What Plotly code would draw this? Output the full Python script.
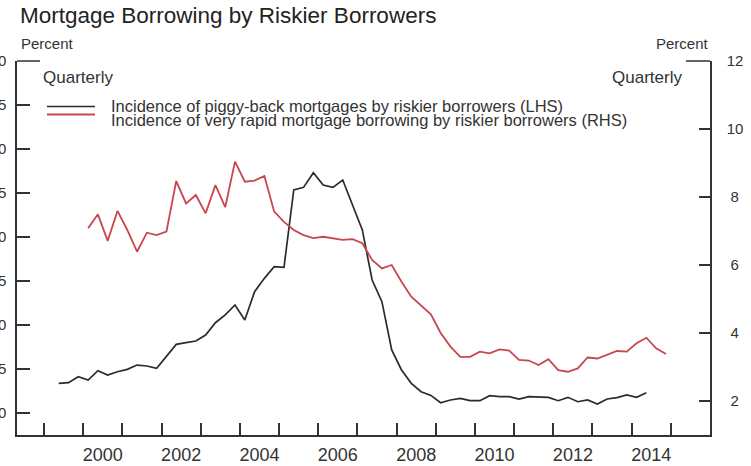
import plotly.graph_objects as go

# ---------------- data ----------------
def quarters(start_year, start_q, n):
    out = []
    y, q = start_year, start_q
    for _ in range(n):
        out.append(f"{y}Q{q}")
        q += 1
        if q > 4:
            q = 1
            y += 1
    return out

def qpos(label):
    y, q = label.split("Q")
    return int(y) + (int(q) - 1) * 0.25 + 0.125

piggyback_quarters = quarters(1999, 2, 61)
piggyback_values = [
    3.37, 3.45, 4.13,
    3.75, 4.81, 4.32, 4.69,
    4.96, 5.45, 5.34, 5.08,
    6.40, 7.80, 7.99, 8.18,
    8.86, 10.26, 11.14, 12.27,
    10.57, 13.79, 15.30, 16.63,
    16.55, 25.34, 25.64, 27.31,
    25.91, 25.64, 26.48, 23.64,
    20.80, 15.11, 12.65, 7.16,
    4.89, 3.37, 2.42, 2.00,
    1.17, 1.48, 1.67, 1.40,
    1.40, 1.97, 1.85, 1.85,
    1.59, 1.85, 1.78, 1.78,
    1.40, 1.78, 1.28, 1.48,
    1.02, 1.59, 1.74, 2.05,
    1.78, 2.31,
]

rapid_quarters = quarters(2000, 1, 60)
rapid_values = [
    7.08, 7.49, 6.71, 7.59,
    7.03, 6.39, 6.95, 6.88,
    6.98, 8.47, 7.81, 8.06,
    7.52, 8.35, 7.70, 9.04,
    8.45, 8.48, 8.62, 7.57,
    7.27, 7.03, 6.88, 6.79,
    6.83, 6.79, 6.74, 6.76,
    6.64, 6.15, 5.90, 6.00,
    5.51, 5.07, 4.82, 4.55,
    4.00, 3.60, 3.30, 3.30,
    3.45, 3.40, 3.52, 3.48,
    3.21, 3.19, 3.06, 3.23,
    2.91, 2.86, 2.96, 3.28,
    3.25, 3.35, 3.47, 3.45,
    3.70, 3.86, 3.55, 3.38,
]

year_label_vals = [2000, 2002, 2004, 2006, 2008, 2010, 2012, 2014]
year_tick_vals = list(range(1999, 2016))
left_ticks = [0, 5, 10, 15, 20, 25, 30, 35, 40]
right_ticks = [2, 4, 6, 8, 10, 12]

legend_labels = [
    "Incidence of piggy-back mortgages by riskier borrowers (LHS)",
    "Incidence of very rapid mortgage borrowing by riskier borrowers (RHS)",
]

# ---------------- figure ----------------
W, H = 751, 466
L, R, T, B = 17, 41, 61, 31
PW, PH = W - L - R, H - T - B
FONT = "Liberation Sans, Arial, sans-serif"
TXT = "#333333"
BLACK = "#2b2b2b"
RED = "#c8464f"

def px(x):
    return (x - L) / PW

def py(y):
    return (H - B - y) / PH

fig = go.Figure()
fig.add_trace(go.Scatter(
    x=[qpos(q) for q in piggyback_quarters], y=piggyback_values,
    mode="lines", line=dict(color=BLACK, width=1.7), name=legend_labels[0],
    showlegend=False, yaxis="y"))
fig.add_trace(go.Scatter(
    x=[qpos(q) for q in rapid_quarters], y=rapid_values,
    mode="lines", line=dict(color=RED, width=1.8), name=legend_labels[1],
    showlegend=False, yaxis="y2"))

axis_line = dict(showline=True, linecolor="#333333", linewidth=1.5,
                 showgrid=False, zeroline=False)

fig.update_layout(
    width=W, height=H,
    margin=dict(l=L, r=R, t=T, b=B, autoexpand=False),
    paper_bgcolor="white", plot_bgcolor="white",
    font=dict(family=FONT, color=TXT),
    xaxis=dict(
        range=[1998.31, 2016.0], **axis_line,
        tickmode="array",
        tickvals=[v + 0.5 for v in year_label_vals],
        ticktext=[str(v) for v in year_label_vals],
        ticks="", tickfont=dict(size=18, color=TXT),
        ticklabelstandoff=3,
        minor=dict(tickmode="array", tickvals=year_tick_vals, ticks="inside",
                   ticklen=12, tickwidth=1.5, tickcolor="#333333"),
    ),
    yaxis=dict(
        range=[-2.5, 40], **axis_line,
        tickmode="array", tickvals=left_ticks,
        ticktext=[str(v) for v in left_ticks],
        ticks="inside", ticklen=13, tickwidth=1.5, tickcolor="#333333",
        tickfont=dict(size=15, color=TXT), ticklabelstandoff=6,
    ),
    yaxis2=dict(
        range=[1, 12], overlaying="y", side="right", **axis_line,
        tickmode="array", tickvals=right_ticks,
        ticktext=[str(v) if v >= 10 else "\u2005" + str(v) for v in right_ticks],
        ticks="inside", ticklen=11, tickwidth=1.5, tickcolor="#333333",
        tickfont=dict(size=15, color=TXT), ticklabelstandoff=12,
    ),
)

# top stubs of the frame
fig.add_shape(type="line", xref="paper", yref="paper",
              x0=px(17), x1=px(40), y0=1, y1=1,
              line=dict(color="#333333", width=1.5))
fig.add_shape(type="line", xref="paper", yref="paper",
              x0=px(686), x1=px(710), y0=1, y1=1,
              line=dict(color="#333333", width=1.5))

# legend samples
fig.add_shape(type="line", xref="paper", yref="paper",
              x0=px(47), x1=px(95), y0=py(106.5), y1=py(106.5),
              line=dict(color=BLACK, width=1.6))
fig.add_shape(type="line", xref="paper", yref="paper",
              x0=px(47), x1=px(95), y0=py(114.5), y1=py(114.5),
              line=dict(color=RED, width=1.8))

def note(text, x, y, size, anchor="left", color=TXT):
    fig.add_annotation(text=text, xref="paper", yref="paper",
                       x=px(x), y=py(y), xanchor=anchor, yanchor="middle",
                       showarrow=False, font=dict(size=size, color=color, family=FONT))

note("Mortgage Borrowing by Riskier Borrowers", 18, 16, 22.5, color="#222222")
note("Percent", 19, 43, 15)
note("Percent", 711, 43, 15, anchor="right")
note("Quarterly", 41, 78, 17)
note("Quarterly", 684, 78, 17, anchor="right")
note(legend_labels[0], 109, 106, 16.5)
note(legend_labels[1], 109, 120.5, 16.5)

fig.write_html(
    "out.html",
    config={"displayModeBar": False},
    post_script="document.body.style.margin='0px';document.body.style.overflow='hidden';",
)
